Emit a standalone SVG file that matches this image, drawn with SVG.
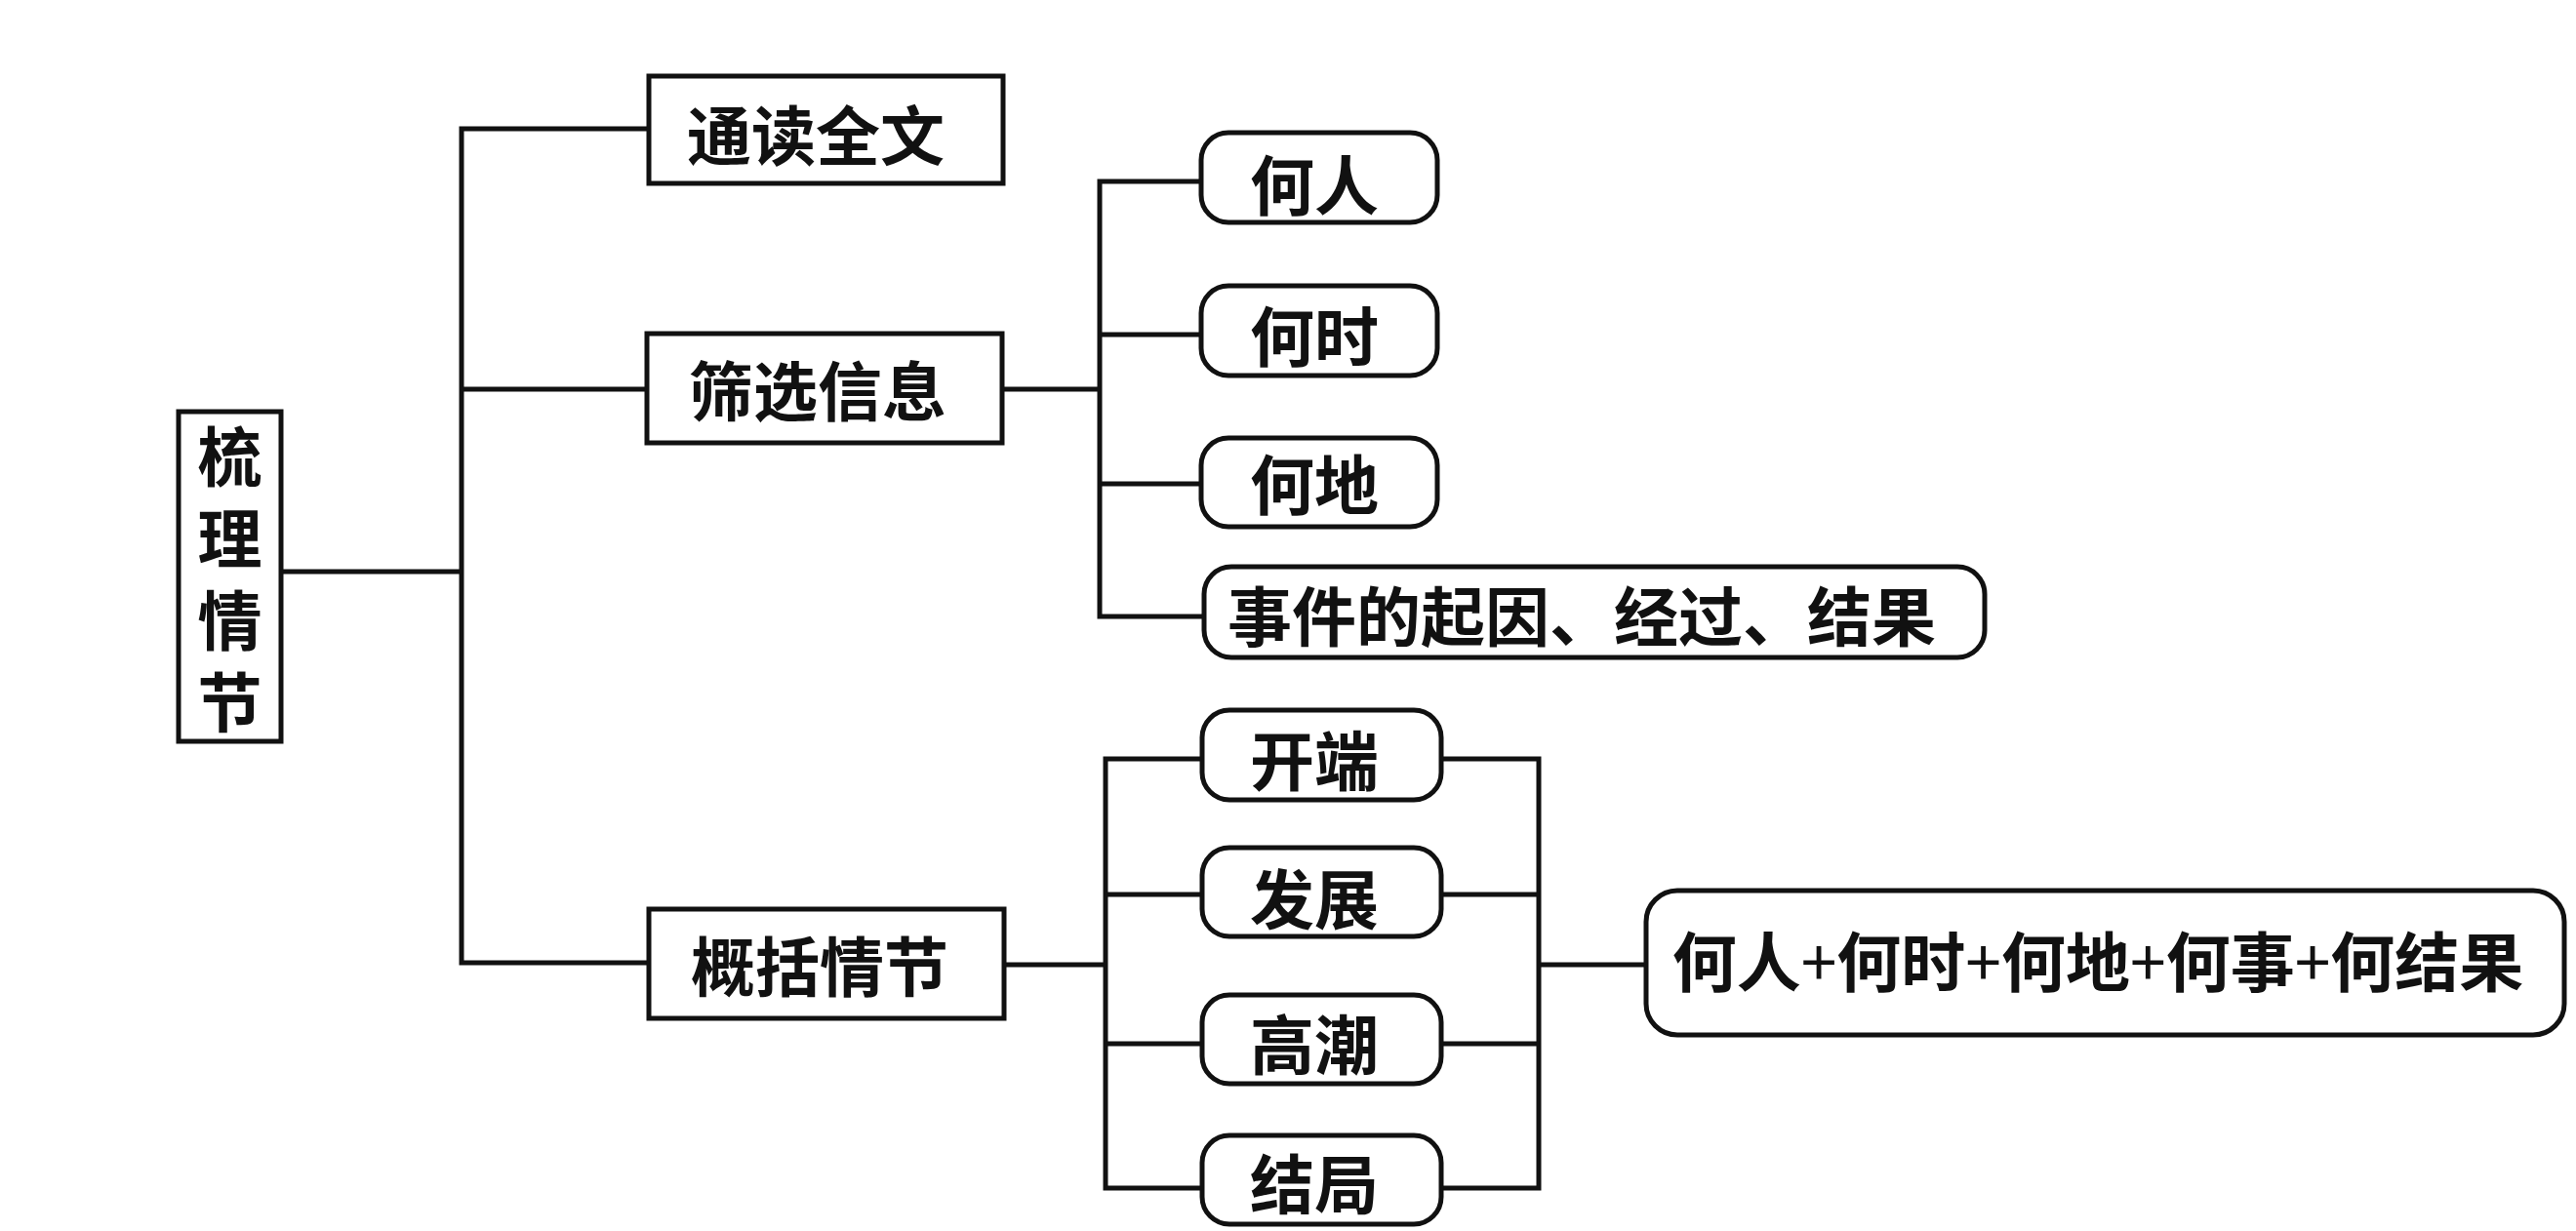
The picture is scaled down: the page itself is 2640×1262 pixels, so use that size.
<svg xmlns="http://www.w3.org/2000/svg" width="2640" height="1262" viewBox="0 0 2640 1262">
<style>
.box{fill:#fff;stroke:#111;stroke-width:5}
.ln{fill:none;stroke:#111;stroke-width:5;stroke-linecap:square}
.t{font-family:"Noto Sans CJK SC","Noto Sans CJK TC",sans-serif;font-weight:700;font-size:66px;fill:#111;text-anchor:middle;dominant-baseline:central}
.v{writing-mode:vertical-rl;letter-spacing:18px}
.p{font-weight:400}
</style>
<rect width="2640" height="1262" fill="#fff"/>
<g id="connectors">
<path class="ln" d="M288,586H473M473,132V987M473,132H665M473,399H663M473,987H665"/>
<path class="ln" d="M1027,399H1127M1127,186V632M1127,186H1231M1127,343H1231M1127,496H1231M1127,632H1234"/>
<path class="ln" d="M1029,989H1133M1133,778V1218M1133,778H1232M1133,917H1232M1133,1070H1232M1133,1218H1232"/>
<path class="ln" d="M1477,778H1577M1477,917H1577M1477,1070H1577M1477,1218H1577M1577,778V1218M1577,989H1687"/>
</g>
<g id="n-root">
<rect class="box" x="183" y="422" width="105" height="338"/>
<text class="t v" x="235.5" y="603">梳理情节</text>
</g>
<g id="n-tongdu">
<rect class="box" x="665" y="78" width="363" height="110"/>
<text class="t" x="836" y="135">通读全文</text>
</g>
<g id="n-shaixuan">
<rect class="box" x="663" y="342" width="364" height="112"/>
<text class="t" x="838" y="397">筛选信息</text>
</g>
<g id="n-gaikuo">
<rect class="box" x="665" y="932" width="364" height="112"/>
<text class="t" x="840" y="987">概括情节</text>
</g>
<g id="n-heren">
<rect class="box" x="1231" y="136" width="242" height="92" rx="28"/>
<text class="t" x="1347" y="186">何人</text>
</g>
<g id="n-heshi">
<rect class="box" x="1231" y="293" width="242" height="92" rx="28"/>
<text class="t" x="1347" y="341">何时</text>
</g>
<g id="n-hedi">
<rect class="box" x="1231" y="449" width="242" height="91" rx="28"/>
<text class="t" x="1347" y="493">何地</text>
</g>
<g id="n-shijian">
<rect class="box" x="1234" y="581" width="800" height="93" rx="28"/>
<text class="t" x="1621" y="628">事件的起因、经过、结果</text>
</g>
<g id="n-kaiduan">
<rect class="box" x="1232" y="728" width="245" height="92" rx="28"/>
<text class="t" x="1347" y="776">开端</text>
</g>
<g id="n-fazhan">
<rect class="box" x="1232" y="869" width="245" height="91" rx="28"/>
<text class="t" x="1347" y="918">发展</text>
</g>
<g id="n-gaochao">
<rect class="box" x="1232" y="1020" width="245" height="91" rx="28"/>
<text class="t" x="1347" y="1067">高潮</text>
</g>
<g id="n-jieju">
<rect class="box" x="1232" y="1164" width="245" height="91" rx="28"/>
<text class="t" x="1347" y="1210">结局</text>
</g>
<g id="n-summary">
<rect class="box" x="1687" y="913" width="941" height="148" rx="32"/>
<text class="t" x="2150" y="982">何人<tspan class="p">+</tspan>何时<tspan class="p">+</tspan>何地<tspan class="p">+</tspan>何事<tspan class="p">+</tspan>何结果</text>
</g>
</svg>
